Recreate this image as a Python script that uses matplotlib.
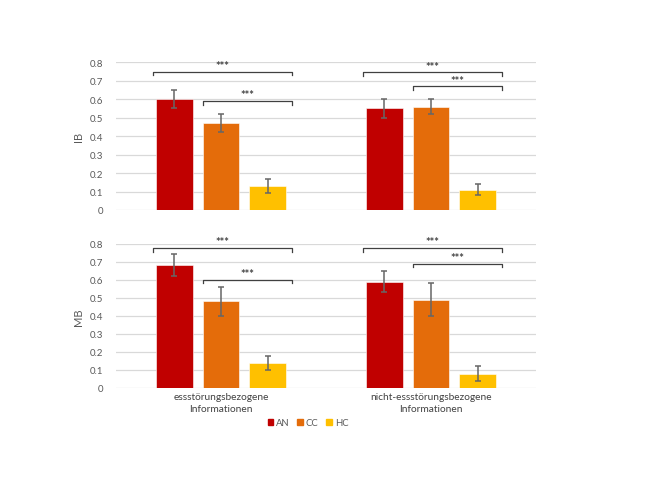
import matplotlib
matplotlib.use("Agg")
import matplotlib.pyplot as plt
import numpy as np

categories = ["essstörungsbezogene\nInformationen", "nicht-essstörungsbezogene\nInformationen"]
groups = ["AN", "CC", "HC"]
colors = ["#C00000", "#E46C0A", "#FFC000"]

ib_values = {"AN": [0.60, 0.55], "CC": [0.47, 0.56], "HC": [0.13, 0.11]}
ib_errors = {"AN": [0.05, 0.05], "CC": [0.05, 0.04], "HC": [0.04, 0.03]}
mb_values = {"AN": [0.68, 0.59], "CC": [0.48, 0.49], "HC": [0.14, 0.08]}
mb_errors = {"AN": [0.06, 0.06], "CC": [0.08, 0.09], "HC": [0.04, 0.04]}

yticks = [0, 0.1, 0.2, 0.3, 0.4, 0.5, 0.6, 0.7, 0.8]
ytick_labels = ["0", "0.1", "0.2", "0.3", "0.4", "0.5", "0.6", "0.7", "0.8"]

# significance brackets: (category index, from group, to group, height)
ib_brackets = [(0, 0, 2, 0.75), (0, 1, 2, 0.59), (1, 0, 2, 0.745), (1, 1, 2, 0.67)]
mb_brackets = [(0, 0, 2, 0.776), (0, 1, 2, 0.60), (1, 0, 2, 0.776), (1, 1, 2, 0.69)]

plt.rcParams['font.family'] = ['Lato', 'DejaVu Sans']

fig = plt.figure(figsize=(6.66, 5.02), dpi=100)
ax1 = fig.add_axes([0.174, 0.5797, 0.631, 0.2942])
ax2 = fig.add_axes([0.174, 0.2251, 0.631, 0.2875])

x = np.arange(len(categories))
width = 0.175
step = 0.222
offsets = [-step, 0, step]

def draw(ax, values, errors, brackets, ylabel, show_x):
    for i, g in enumerate(groups):
        pos = x + offsets[i]
        ax.bar(pos, values[g], width=width, color=colors[i], zorder=2,
               edgecolor="white", linewidth=0.4, label=g)
        ax.errorbar(pos, values[g], yerr=errors[g], fmt="none", ecolor="#666666",
                    elinewidth=1.1, capsize=2.5, capthick=1.1, zorder=3)
    ax.set_xlim(-0.5, 1.5)
    ax.set_ylim(0, 0.8)
    ax.set_yticks(yticks)
    ax.set_yticklabels(ytick_labels)
    ax.yaxis.grid(True, color="#D9D9D9", linewidth=0.9, zorder=0)
    ax.set_axisbelow(True)
    for s in ax.spines.values():
        s.set_visible(False)
    ax.tick_params(axis="y", length=0, pad=9, labelsize=7, labelcolor="#595959")
    ax.set_ylabel(ylabel, fontsize=8, color="#595959", labelpad=4)
    if show_x:
        ax.set_xticks(x)
        ax.set_xticklabels(categories, fontsize=7.3, color="#404040", linespacing=1.45)
        ax.tick_params(axis="x", length=0, pad=3)
    else:
        ax.set_xticks([])
    tick = 0.02
    for (c, a, b, h) in brackets:
        left = x[c] + offsets[a] - width / 2 - (0.015 if a == 0 else 0)
        right = x[c] + offsets[b] + width / 2 + 0.03
        ax.plot([left, left, right, right], [h - tick, h, h, h - tick],
                color="#404040", linewidth=0.9, clip_on=False, zorder=4)
        ax.text((left + right) / 2, h + 0.004, "***", ha="center", va="bottom",
                fontsize=8, fontweight="bold", color="#404040", clip_on=False)

draw(ax1, ib_values, ib_errors, ib_brackets, "IB", False)
draw(ax2, mb_values, mb_errors, mb_brackets, "MB", True)

handles = [plt.Rectangle((0, 0), 1, 1, color=c) for c in colors]
fig.legend(handles, groups, loc="center", bbox_to_anchor=(308 / 666, 1 - 424 / 502),
           ncol=3, frameon=False, fontsize=6.8, handlelength=0.6, handleheight=0.6,
           handletextpad=0.3, columnspacing=0.8, labelcolor="#595959")

fig.savefig("out.png", dpi=100)
